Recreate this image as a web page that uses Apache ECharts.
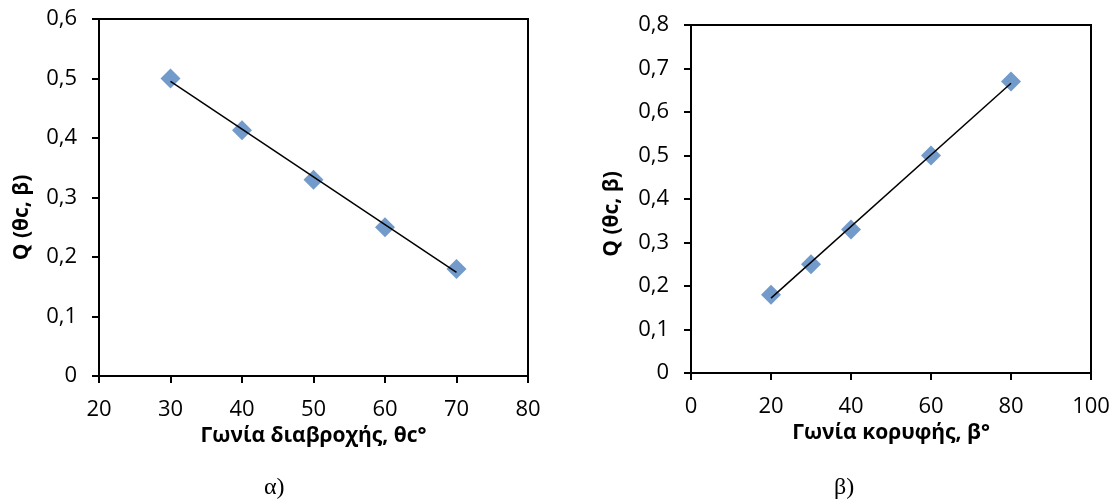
<!DOCTYPE html>
<html><head><meta charset="utf-8">
<script src="https://cdn.jsdelivr.net/npm/echarts@6/dist/echarts.min.js"></script>
<style>html,body{margin:0;padding:0;background:#fff}#c{width:1113px;height:504px}</style>
</head><body><div id="c"></div>
<script>
// Chart α: contact angle vs Q
const wetAngle = [30, 40, 50, 60, 70];
const wetQ = [0.5, 0.413, 0.33, 0.25, 0.18];
const wetTrend = [[30, 0.495], [70, 0.174]];
// Chart β: apex angle vs Q
const apexAngle = [20, 30, 40, 60, 80];
const apexQ = [0.18, 0.25, 0.33, 0.5, 0.67];
const apexTrend = [[20, 0.172], [80, 0.666]];
const yTitle = 'Q (θc, β)';
const xTitleA = 'Γωνία διαβροχής, θc°';
const xTitleB = 'Γωνία κορυφής, β°';
const captionA = 'α)';
const captionB = 'β)';

const FONT = '"Open Sans"';
const comma = v => String(Math.round(v * 10) / 10).replace('.', ',');

function xAxis(idx, min, max, interval, name) {
  return {
    type: 'value', gridIndex: idx, min, max, interval,
    name, nameLocation: 'middle', nameGap: 47,
    nameTextStyle: {fontFamily: FONT, fontSize: 21, fontWeight: 'bold', color: '#000'},
    axisLine: {onZero: false, lineStyle: {color: '#000', width: 2}},
    axisTick: {show: true, inside: false, length: 7, lineStyle: {color: '#000', width: 2}},
    axisLabel: {fontFamily: FONT, fontSize: 22, color: '#000', margin: 23},
    splitLine: {show: false}
  };
}
function yAxis(idx, max, gap, shift) {
  return {
    type: 'value', gridIndex: idx, min: 0, max, interval: 0.1,
    name: yTitle, nameLocation: 'middle', nameGap: gap, nameRotate: 90,
    nameTextStyle: {fontFamily: FONT, fontSize: 21, fontWeight: 'bold', color: '#000', padding: [0, shift, 0, 0]},
    axisLine: {onZero: false, lineStyle: {color: '#000', width: 2}},
    axisTick: {show: true, inside: false, length: 7, lineStyle: {color: '#000', width: 2}},
    axisLabel: {fontFamily: FONT, fontSize: 22, color: '#000', margin: 22, formatter: comma},
    splitLine: {show: false}
  };
}
function pts(xs, ys) { return xs.map((x, i) => [x, ys[i]]); }

const chart = echarts.init(document.getElementById('c'));
chart.setOption({
  animation: false,
  backgroundColor: '#fff',
  grid: [
    {left: 99, top: 19, width: 429, height: 357, show: true, borderColor: '#000', borderWidth: 2, backgroundColor: 'transparent'},
    {left: 691, top: 25, width: 400, height: 348, show: true, borderColor: '#000', borderWidth: 2, backgroundColor: 'transparent'}
  ],
  xAxis: [xAxis(0, 20, 80, 10, xTitleA), xAxis(1, 0, 100, 20, xTitleB)],
  yAxis: [yAxis(0, 0.6, 66, 40), yAxis(1, 0.8, 68, 30)],
  graphic: [
    {type: 'text', left: 264, top: 476, style: {text: captionA, font: '24px "Liberation Serif"', fill: '#000'}},
    {type: 'text', left: 834, top: 476, style: {text: captionB, font: '24px "Liberation Serif"', fill: '#000'}}
  ],
  series: [
    {type: 'line', xAxisIndex: 0, yAxisIndex: 0, data: wetTrend, showSymbol: false, symbol: 'none', lineStyle: {color: '#000', width: 1.5}, z: 3},
    {type: 'scatter', xAxisIndex: 0, yAxisIndex: 0, data: pts(wetAngle, wetQ), symbol: 'diamond', symbolSize: 20, itemStyle: {color: '#4F81BD'}, z: 2},
    {type: 'line', xAxisIndex: 1, yAxisIndex: 1, data: apexTrend, showSymbol: false, symbol: 'none', lineStyle: {color: '#000', width: 1.5}, z: 3},
    {type: 'scatter', xAxisIndex: 1, yAxisIndex: 1, data: pts(apexAngle, apexQ), symbol: 'diamond', symbolSize: 20, itemStyle: {color: '#4F81BD'}, z: 2}
  ]
});
</script></body></html>
